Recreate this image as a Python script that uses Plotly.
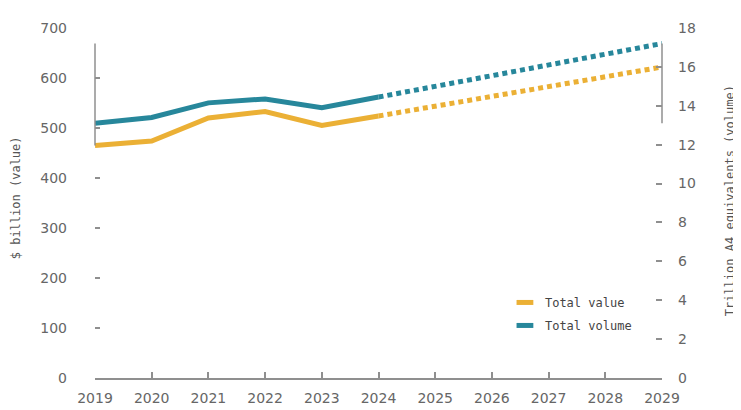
import plotly.graph_objects as go

years_hist = [2019, 2020, 2021, 2022, 2023, 2024]
years_fc = [2024, 2025, 2026, 2027, 2028, 2029]
value_hist = [465, 474, 520, 533, 505, 524]
value_fc = [524, 544, 563, 583, 602, 622]
volume_hist = [13.1, 13.4, 14.15, 14.35, 13.9, 14.45]
volume_fc = [14.45, 15.0, 15.55, 16.1, 16.65, 17.2]
left_ticks = [0, 100, 200, 300, 400, 500, 600, 700]
right_ticks = [0, 2, 4, 6, 8, 10, 12, 14, 16, 18]
x_ticks = list(range(2019, 2030))

ORANGE = "#EBB035"
TEAL = "#27879B"
AXIS = "#8f8f8f"
TICKFONT = dict(family="DejaVu Sans", size=14, color="#666666")
MONO = "DejaVu Sans Mono"
LEFT_MAX = 700
RIGHT_MAX = 18

fig = go.Figure()
fig.add_trace(go.Scatter(x=years_hist, y=value_hist, mode="lines",
                         line=dict(color=ORANGE, width=5), showlegend=False, yaxis="y"))
fig.add_trace(go.Scatter(x=years_fc, y=value_fc, mode="lines",
                         line=dict(color=ORANGE, width=5, dash="5px,4px"), showlegend=False, yaxis="y"))
fig.add_trace(go.Scatter(x=years_hist, y=volume_hist, mode="lines",
                         line=dict(color=TEAL, width=5), showlegend=False, yaxis="y2"))
fig.add_trace(go.Scatter(x=years_fc, y=volume_fc, mode="lines",
                         line=dict(color=TEAL, width=5, dash="5px,4px"), showlegend=False, yaxis="y2"))
# legend entries
fig.add_trace(go.Scatter(x=[None], y=[None], mode="markers", name="Total value",
                         legendgroup="a",
                         marker=dict(symbol="line-ew-open", size=12, color=ORANGE,
                                     line=dict(color=ORANGE, width=5))))
fig.add_trace(go.Scatter(x=[None], y=[None], mode="markers", name="Total volume",
                         legendgroup="b",
                         marker=dict(symbol="line-ew-open", size=12, color=TEAL,
                                     line=dict(color=TEAL, width=5))))

fig.update_layout(
    width=733, height=402,
    margin=dict(l=87, r=79, t=20, b=32, autoexpand=False),
    paper_bgcolor="white", plot_bgcolor="white",
    xaxis=dict(range=[2019, 2029], tickvals=x_ticks, ticktext=[str(t) for t in x_ticks],
               showgrid=False, zeroline=False, showline=True, linecolor=AXIS, linewidth=1.5,
               ticks="inside", ticklen=6, tickcolor=AXIS, tickwidth=1.5, automargin=False,
               tickfont=TICKFONT, ticklabelstandoff=6),
    yaxis=dict(range=[0, LEFT_MAX], tickvals=left_ticks, showgrid=False, zeroline=False,
               showline=False, ticks="inside", ticklen=5, tickcolor=AXIS, tickwidth=1.5,
               automargin=False, tickfont=TICKFONT, ticklabelstandoff=27),
    yaxis2=dict(range=[0, RIGHT_MAX], tickvals=right_ticks, overlaying="y", side="right",
                showgrid=False, zeroline=False, showline=False, ticks="inside", ticklen=6,
                automargin=False, tickcolor=AXIS, tickwidth=1.5, tickfont=TICKFONT,
                ticklabelstandoff=15),
    legend=dict(x=0.723, y=0.183, xanchor="left", yanchor="middle", bgcolor="rgba(0,0,0,0)",
                font=dict(family=MONO, size=12, color="#444444"), traceorder="grouped",
                tracegroupgap=4, itemwidth=30),
    annotations=[
        dict(text="$ billion (value)", xref="paper", yref="paper", x=-0.139, y=0.514,
             xanchor="center", yanchor="middle",
             textangle=-90, showarrow=False, font=dict(family=MONO, size=12, color="#555555")),
        dict(text="Trillion A4 equivalents (volume)", xref="paper", yref="paper", x=1.12, y=0.505,
             xanchor="center", yanchor="middle",
             textangle=-90, showarrow=False, font=dict(family=MONO, size=12, color="#555555")),
    ],
    shapes=[
        dict(type="line", xref="paper", yref="y", x0=0, x1=0,
             y0=min(value_hist), y1=max(volume_fc) * LEFT_MAX / RIGHT_MAX,
             line=dict(color=AXIS, width=1.5)),
        dict(type="line", xref="paper", yref="y2", x0=1, x1=1,
             y0=min(volume_hist), y1=max(volume_fc),
             line=dict(color=AXIS, width=1.5)),
    ],
)

fig.write_html("out.html")
